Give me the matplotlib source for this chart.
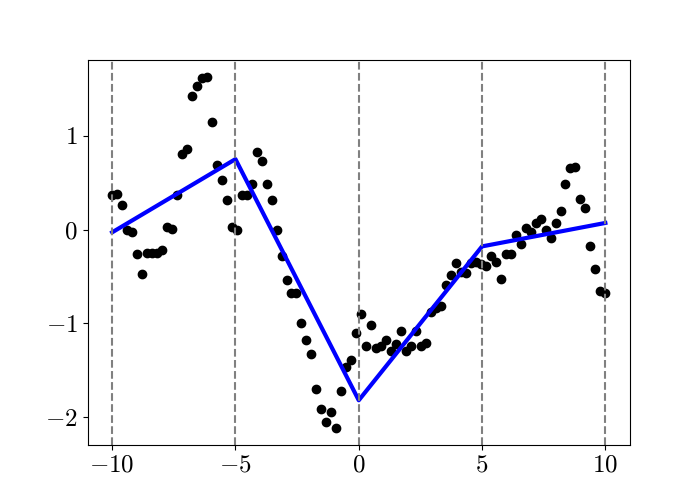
import numpy as np
import matplotlib
matplotlib.use("Agg")
import matplotlib.pyplot as plt

# computer-modern look without a latex install
plt.rcParams['mathtext.fontset'] = 'cm'
plt.rcParams['font.family'] = 'serif'
plt.rcParams['font.serif'] = ['cmr10']
plt.rcParams['axes.formatter.use_mathtext'] = True
plt.rcParams['font.size'] = 18

# noisy samples
x = np.linspace(-10, 10, 100)
y = [0.37, 0.38, 0.26, -0.01, -0.03, -0.26, -0.47, -0.25, -0.25, -0.25,
     -0.22, 0.03, 0.01, 0.37, 0.81, 0.86, 1.42, 1.53, 1.61, 1.62,
     1.15, 0.69, 0.53, 0.31, 0.03, -0.01, 0.37, 0.37, 0.49, 0.83,
     0.73, 0.48, 0.31, -0.01, -0.28, -0.54, -0.68, -0.68, -1.00, -1.18,
     -1.33, -1.70, -1.91, -2.05, -1.94, -2.11, -1.72, -1.47, -1.39, -1.10,
     -0.90, -1.24, -1.02, -1.26, -1.24, -1.18, -1.29, -1.22, -1.08, -1.29,
     -1.24, -1.08, -1.24, -1.21, -0.88, -0.84, -0.81, -0.59, -0.48, -0.36,
     -0.45, -0.46, -0.36, -0.35, -0.37, -0.39, -0.28, -0.35, -0.53, -0.26,
     -0.26, -0.06, -0.15, 0.02, -0.03, 0.07, 0.11, 0.00, -0.09, 0.07,
     0.20, 0.49, 0.66, 0.67, 0.33, 0.23, -0.18, -0.42, -0.66, -0.68]

# piecewise linear fit
breaks = [-10, -5, 0, 5, 10]
fit = [-0.03, 0.75, -1.82, -0.18, 0.07]

fig, ax = plt.subplots(figsize=(7, 5))
ax.scatter(x, y, color='black')
ax.plot(breaks, fit, color='blue', linewidth=3)
for b in breaks:
    ax.axvline(b, color='gray', linestyle='--')

fig.savefig('out.png', dpi=100)
